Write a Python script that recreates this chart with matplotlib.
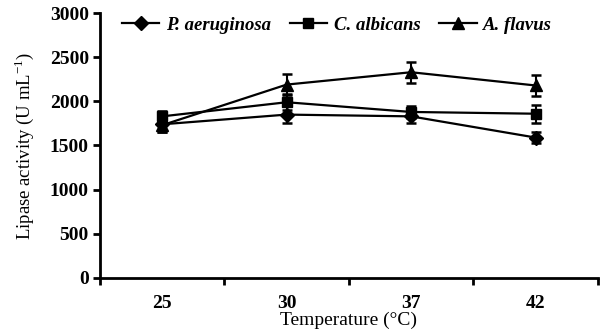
import matplotlib
matplotlib.use("Agg")
import matplotlib.pyplot as plt
from matplotlib.lines import Line2D
import numpy as np

categories = ["25", "30", "37", "42"]
series_names = ["P. aeruginosa", "C. albicans", "A. flavus"]
p_aer = [1740, 1850, 1830, 1590]
p_aer_err = [90, 100, 70, 60]
c_alb = [1830, 1990, 1880, 1860]
c_alb_err = [60, 90, 70, 100]
a_fla = [1730, 2190, 2330, 2180]
a_fla_err = [80, 115, 120, 115]

plt.rcParams['font.family'] = ['Liberation Serif', 'DejaVu Serif']
plt.rcParams['mathtext.fontset'] = 'custom'
plt.rcParams['mathtext.rm'] = 'Liberation Serif'

fig = plt.figure(figsize=(6.02, 3.36), dpi=100)
ax = fig.add_axes([0.166, 0.173, 0.827, 0.788])

x = np.arange(len(categories))
markers = ['D', 's', '^']
sizes = [7, 7, 8]
handles = []
for vals, errs, name, m, ms in zip([p_aer, c_alb, a_fla], [p_aer_err, c_alb_err, a_fla_err],
                                   series_names, markers, sizes):
    ax.errorbar(x, vals, yerr=errs, color='black', marker=m, markersize=ms, lw=1.6,
                capsize=3.6, elinewidth=1.5, capthick=1.8)
    handles.append(Line2D([], [], color='black', marker=m, markersize=ms, lw=1.6, label=name))

ax.set_xlim(-0.5, 3.5)
ax.set_ylim(0, 3000)
ax.set_yticks(np.arange(0, 3001, 500))
ax.set_xticks(np.arange(-0.5, 3.6, 1.0))
ax.set_xticklabels([])
ax.set_xticks(x, minor=True)
ax.set_xticklabels(categories, minor=True)
ax.tick_params(axis='x', which='minor', length=0, pad=12)
ax.tick_params(axis='x', which='major', direction='out', length=5, width=2)
ax.tick_params(axis='y', direction='out', length=5, width=2, pad=3)
for lbl in ax.get_xticklabels(minor=True) + ax.get_yticklabels():
    lbl.set_fontweight('bold')
    lbl.set_fontsize(14)
for s in ['top', 'right']:
    ax.spines[s].set_visible(False)
for s in ['left', 'bottom']:
    ax.spines[s].set_linewidth(2)

ax.set_xlabel("Temperature (°C)", fontsize=14, labelpad=0)
ax.set_ylabel("Lipase activity (U mL$^{-1}$)", fontsize=13.5, labelpad=10)

leg = ax.legend(handles=handles, loc='upper left', bbox_to_anchor=(0.01, 1.05), ncol=3,
                frameon=False, prop={'style': 'italic', 'weight': 'bold', 'size': 13.5},
                handlelength=2.0, columnspacing=1.0, handletextpad=0.35)

fig.savefig("out.png", dpi=100)
